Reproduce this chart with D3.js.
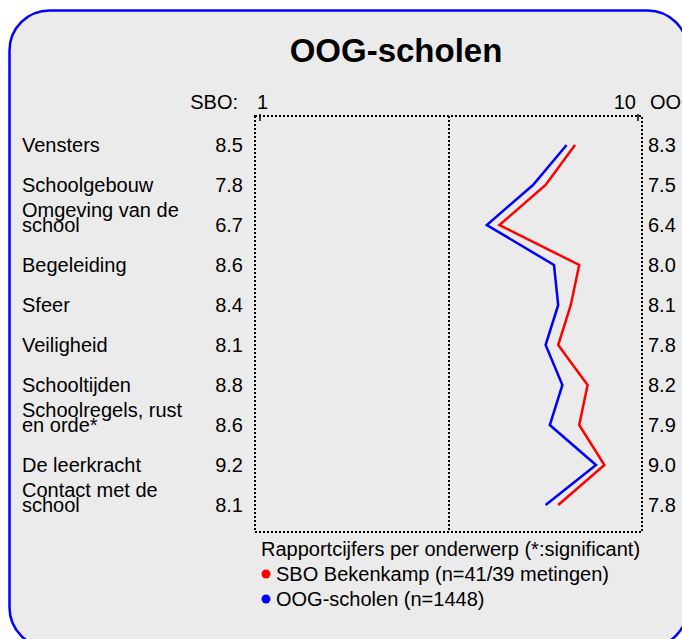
<!DOCTYPE html>
<html>
<head>
<meta charset="utf-8">
<script src="https://cdn.jsdelivr.net/npm/d3@7/dist/d3.min.js"></script>
<style>
  body { margin: 0; background: #fff; }
  svg text { font-family: "Liberation Sans", Arial, sans-serif; }
</style>
</head>
<body>
<div id="chart"></div>
<script>
const topics = [
  ["Vensters"],
  ["Schoolgebouw"],
  ["Omgeving van de", "school"],
  ["Begeleiding"],
  ["Sfeer"],
  ["Veiligheid"],
  ["Schooltijden"],
  ["Schoolregels, rust", "en orde*"],
  ["De leerkracht"],
  ["Contact met de", "school"]
];
const sboScores = [8.5, 7.8, 6.7, 8.6, 8.4, 8.1, 8.8, 8.6, 9.2, 8.1];
const oogScores = [8.3, 7.5, 6.4, 8.0, 8.1, 7.8, 8.2, 7.9, 9.0, 7.8];
const legendItems = [
  { label: "SBO Bekenkamp (n=41/39 metingen)", color: "#ff0000" },
  { label: "OOG-scholen (n=1448)", color: "#0000ff" }
];

const width = 682, height = 639;
const fontSize = '20px';

const svg = d3.select('#chart').append('svg')
    .attr('width', width)
    .attr('height', height);

// panel
svg.append('rect')
    .attr('x', 9.5)
    .attr('y', 10.5)
    .attr('width', 678)
    .attr('height', 637)
    .attr('rx', 40)
    .attr('ry', 40)
    .attr('fill', '#ebebeb')
    .attr('stroke', '#0000ff')
    .attr('stroke-width', 2.5);

svg.append('text')
    .attr('x', 396)
    .attr('y', 62)
    .attr('text-anchor', 'middle')
    .style('font-size', '33px')
    .style('font-weight', 'bold')
    .text('OOG-scholen');

// scales
const x = d3.scaleLinear().domain([1, 10]).range([260, 638]);
const y = d3.scalePoint().domain(d3.range(topics.length)).range([145, 505]);

const frame = { left: 255, right: 642, top: 116, bottom: 532 };

const dotted = g => g.attr('stroke', '#000')
    .attr('stroke-width', 2)
    .attr('stroke-dasharray', '2,2')
    .attr('fill', 'none');

svg.append('rect')
    .attr('x', frame.left)
    .attr('y', frame.top)
    .attr('width', frame.right - frame.left)
    .attr('height', frame.bottom - frame.top)
    .call(dotted);

svg.append('line')
    .attr('x1', x(5.5)).attr('x2', x(5.5))
    .attr('y1', frame.top).attr('y2', frame.bottom)
    .call(dotted);

// small ticks at 1 and 10
svg.selectAll('.tick-mark')
    .data([1, 10])
    .join('line')
    .attr('x1', d => x(d)).attr('x2', d => x(d))
    .attr('y1', frame.top - 2).attr('y2', frame.top + 5)
    .attr('stroke', '#000')
    .attr('stroke-width', 1.5);

// header
const header = svg.append('g').style('font-size', fontSize);
header.append('text').attr('x', 238).attr('y', 109).attr('text-anchor', 'end').text('SBO:');
header.append('text').attr('x', x(1) - 3).attr('y', 109).text('1');
header.append('text').attr('x', x(10) - 2).attr('y', 109).attr('text-anchor', 'end').text('10');
header.append('text').attr('x', 650).attr('y', 109).text('OOG:');

// rows
const rows = svg.append('g').style('font-size', fontSize)
    .selectAll('g')
    .data(topics)
    .join('g');

const baseline = (d, i) => y(i) + 7;

rows.append('text')
    .selectAll('tspan')
    .data((d, i) => d.map((t, j) => ({ t, y: baseline(d, i) - (d.length - 1 - j) * 15 })))
    .join('tspan')
    .attr('x', 22)
    .attr('y', s => s.y)
    .text(s => s.t);

rows.append('text')
    .attr('x', 243)
    .attr('y', baseline)
    .attr('text-anchor', 'end')
    .text((d, i) => sboScores[i].toFixed(1));

rows.append('text')
    .attr('x', 648)
    .attr('y', baseline)
    .text((d, i) => oogScores[i].toFixed(1));

// lines
const line = d3.line()
    .x(d => x(d))
    .y((d, i) => y(i));

svg.append('path')
    .datum(oogScores)
    .attr('d', line)
    .attr('fill', 'none')
    .attr('stroke', '#0000ff')
    .attr('stroke-width', 2.5);

svg.append('path')
    .datum(sboScores)
    .attr('d', line)
    .attr('fill', 'none')
    .attr('stroke', '#ff0000')
    .attr('stroke-width', 2.5);

// legend
const legend = svg.append('g').style('font-size', fontSize);
legend.append('text')
    .attr('x', 261)
    .attr('y', 556)
    .text('Rapportcijfers per onderwerp (*:significant)');

const items = legend.selectAll('g')
    .data(legendItems)
    .join('g')
    .attr('transform', (d, i) => `translate(0,${574 + i * 25})`);

items.append('circle')
    .attr('cx', 266)
    .attr('cy', 0)
    .attr('r', 4.5)
    .attr('fill', d => d.color);

items.append('text')
    .attr('x', 276)
    .attr('y', 7)
    .text(d => d.label);
</script>
</body>
</html>
